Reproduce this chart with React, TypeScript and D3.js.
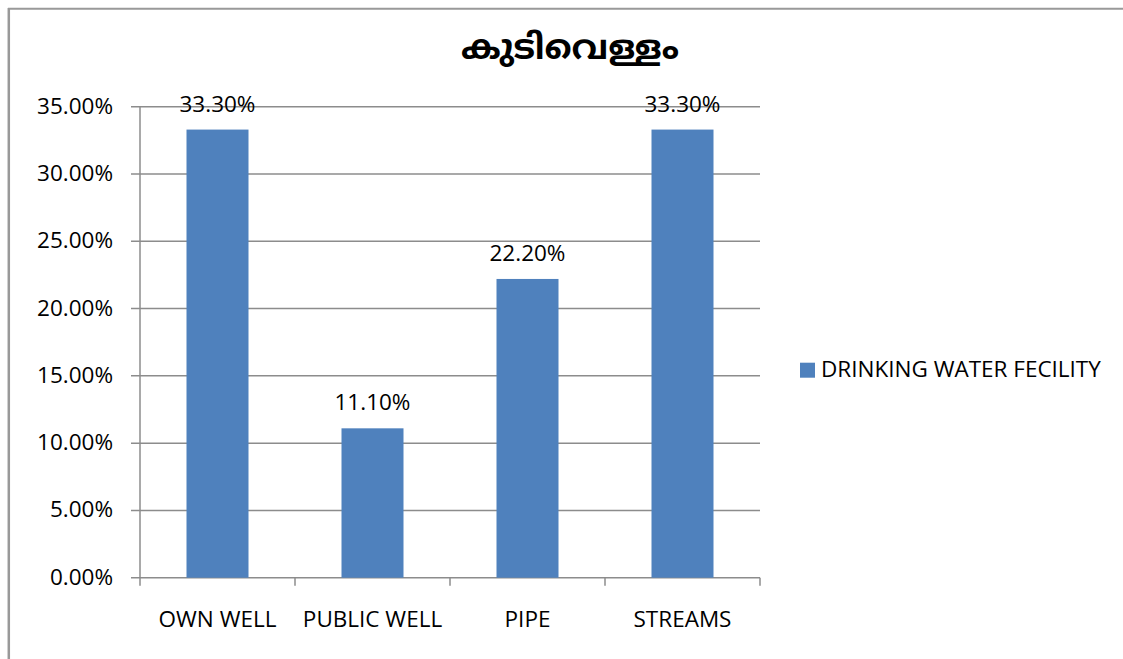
import React from "react";
import * as d3 from "d3";

const categories = ["OWN WELL", "PUBLIC WELL", "PIPE", "STREAMS"];
const values = [33.3, 11.1, 22.2, 33.3];
const yTicks = [0, 5, 10, 15, 20, 25, 30, 35];
const seriesName = "DRINKING WATER FECILITY";
const title = "കുടിവെള്ളം";

const W = 1123;
const H = 659;
const FONT = "'Open Sans', 'Noto Sans', sans-serif";
const FS = 22.5;

export default function App() {
  const left = 140, right = 760, top = 106.7, bottom = 577.7;
  const x = d3.scaleBand<string>().domain(categories).range([left, right]).paddingInner(0.6).paddingOuter(0.3);
  const xEdge = d3.scaleBand<string>().domain(categories).range([left, right]);
  const y = d3.scaleLinear().domain([0, 35]).range([bottom, top]);
  const grid = "#8c8c8c";
  const barColor = "#4F81BD";
  return (
    <svg width={W} height={H} style={{ position: "absolute", left: 0, top: 0, background: "#fff" }} fontFamily={FONT}>
      <rect x={0} y={0} width={W} height={H} fill="#fff" />
      <line x1={8.8} x2={8.8} y1={8} y2={H} stroke="#999" strokeWidth={2.5} />
      <line x1={8} x2={W} y1={8.8} y2={8.8} stroke="#999" strokeWidth={2} />
      <text x={570} y={59} textAnchor="middle" fontSize={34.5} fontWeight="bold" fill="#000"
        fontFamily="'Noto Sans Malayalam', 'Noto Sans', sans-serif">{title}</text>
      {yTicks.map((t) => (
        <g key={t}>
          <line x1={131} x2={right} y1={y(t)} y2={y(t)} stroke={grid} strokeWidth={1.5} />
          <text x={113} y={y(t) + 7} textAnchor="end" fontSize={FS} fill="#000">{t.toFixed(2) + "%"}</text>
        </g>
      ))}
      <line x1={left} x2={left} y1={top} y2={bottom} stroke={grid} strokeWidth={1.5} />
      {categories.map((c) => (
        <line key={"t" + c} x1={xEdge(c)!} x2={xEdge(c)!} y1={bottom} y2={bottom + 8} stroke={grid} strokeWidth={1.5} />
      ))}
      <line x1={right} x2={right} y1={bottom} y2={bottom + 8} stroke={grid} strokeWidth={1.5} />
      {categories.map((c, i) => (
        <g key={c}>
          <rect x={x(c)!} y={y(values[i])} width={x.bandwidth()} height={bottom - y(values[i])} fill={barColor} />
          <text x={x(c)! + x.bandwidth() / 2} y={y(values[i]) - 18} textAnchor="middle" fontSize={FS} fill="#000">
            {values[i].toFixed(2) + "%"}
          </text>
          <text x={xEdge(c)! + xEdge.bandwidth() / 2} y={626.7} textAnchor="middle" fontSize={FS} fill="#000">{c}</text>
        </g>
      ))}
      <rect x={800} y={362.7} width={15} height={15} fill={barColor} />
      <text x={821} y={376.7} fontSize={FS} fill="#000">{seriesName}</text>
    </svg>
  );
}
